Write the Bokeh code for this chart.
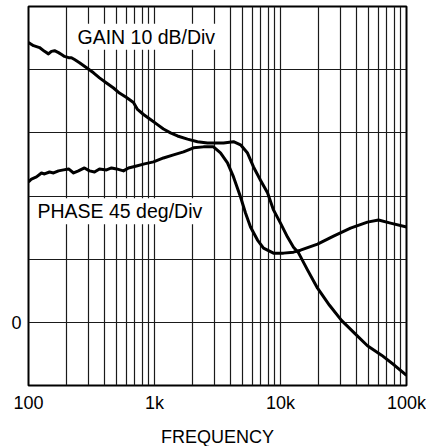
from bokeh.plotting import figure
from bokeh.models import Range1d, FixedTicker, Label
from bokeh.embed import file_html
from bokeh.resources import INLINE

# Gain curve (frequency in Hz, gain in dB; 10 dB/div)
gain_freq = [100, 109.6, 122.3, 134, 144, 152, 161, 173, 183, 193, 208, 219, 232, 254,
             289, 328, 366, 416, 473, 527, 600, 681, 733, 818, 929, 1056, 1178, 1340,
             1523, 1828, 2193, 2635, 3162, 3530, 4237, 4818, 5474, 6108, 6938, 7888,
             8795, 10000, 11370, 12680, 13900, 16370, 19680, 24490, 30480, 38640,
             48980, 63370, 80350, 100000]
gain_db = [44.3, 43.8, 43.5, 42.9, 42.5, 42.9, 43.0, 42.7, 42.4, 42.1, 41.9, 41.9, 41.6, 41.1,
           40.3, 39.5, 38.7, 37.9, 37.1, 36.3, 35.6, 34.8, 33.7, 32.9, 32.1, 31.3, 30.6, 30.0,
           29.5, 29.0, 28.6, 28.4, 28.4, 28.4, 28.6, 28.1, 26.8, 24.6, 22.5, 20.5,
           17.8, 15.7, 13.5, 11.9, 11.0, 8.3, 5.4, 2.7, 0.3, -1.7,
           -3.7, -5.2, -6.8, -8.4]

# Phase curve (frequency in Hz, phase in degrees; 45 deg/div)
phase_freq = [100, 105.6, 115.7, 126.8, 134, 146.8, 158, 173, 190, 208, 228, 249, 278, 305,
              334, 366, 416, 456, 500, 567, 622, 720, 833, 982, 1178, 1415, 1700, 2040,
              2448, 2938, 3340, 3796, 4237, 4818, 5275, 5780, 6568, 7330, 8795, 10560,
              12680, 14420, 19680, 26360, 35950, 48980, 59950, 74650, 100000]
phase_deg = [100.0, 102.1, 103.6, 106.4, 105.7, 107.1, 106.4, 107.9, 108.6, 109.3, 106.4, 107.9, 110.0, 107.9,
             107.1, 109.3, 108.6, 110.0, 109.3, 107.9, 110.0, 111.4, 112.9, 114.3, 117.1, 119.3, 121.4, 124.3,
             125.0, 125.0, 120.7, 113.6, 103.6, 89.3, 77.9, 67.9, 58.6, 52.9, 49.3, 49.3,
             50.0, 51.4, 55.7, 61.4, 67.1, 71.4, 72.9, 70.7, 67.9]

x_ticks = [100, 1000, 10000, 100000]
x_tick_labels = {100: "100", 1000: "1k", 10000: "10k", 100000: "100k"}
x_grid = [m * d for d in (100, 1000, 10000) for m in range(1, 10)] + [100000]
y_grid_db = [-10, 0, 10, 20, 30, 40, 50]
y_ticks = [0]

FONT = "Liberation Sans"

p = figure(frame_width=378, frame_height=379, x_axis_type="log",
           x_range=Range1d(100, 100000), y_range=Range1d(-10, 50),
           output_backend="svg", toolbar_location=None,
           min_border_left=20, min_border_right=20, min_border_top=2, min_border_bottom=10,
           margin=(4, 0, 0, 8))
p.extra_y_ranges = {"phase": Range1d(-45, 225)}

p.background_fill_color = "white"
p.border_fill_color = "white"
p.outline_line_color = "black"
p.outline_line_width = 2

p.xgrid.ticker = FixedTicker(ticks=x_grid)
p.ygrid.ticker = FixedTicker(ticks=y_grid_db)
for g in (p.xgrid, p.ygrid):
    g.grid_line_color = "#1a1a1a"
    g.grid_line_width = 1.2
    g.minor_grid_line_color = None

p.xaxis.ticker = FixedTicker(ticks=x_ticks)
p.xaxis.major_label_overrides = x_tick_labels
p.xaxis.axis_label = "FREQUENCY"
p.yaxis.ticker = FixedTicker(ticks=y_ticks)
for ax in (p.xaxis, p.yaxis):
    ax.axis_line_color = None
    ax.major_tick_line_color = None
    ax.minor_tick_line_color = None
    ax.major_tick_out = 0
    ax.major_tick_in = 0
    ax.major_label_text_font = FONT
    ax.major_label_text_font_size = "18px"
    ax.major_label_text_color = "black"
    ax.axis_label_text_font = FONT
    ax.axis_label_text_font_size = "18px"
    ax.axis_label_text_font_style = "normal"
    ax.axis_label_text_color = "black"
p.xaxis.major_label_standoff = 7
p.xaxis.axis_label_standoff = 11
p.yaxis.major_label_standoff = 7

p.line(gain_freq, gain_db, line_width=3, line_color="black", line_join="round")
p.line(phase_freq, phase_deg, line_width=3, line_color="black", line_join="round",
       y_range_name="phase")

p.add_layout(Label(x=236, y=45.2, text="GAIN 10 dB/Div", text_baseline="middle",
                   text_font=FONT, text_font_size="19.5px", text_color="black",
                   background_fill_color="white", padding=2))
p.add_layout(Label(x=113.6, y=17.6, text="PHASE 45 deg/Div", text_baseline="middle",
                   text_font=FONT, text_font_size="19.5px", text_color="black",
                   background_fill_color="white", padding=2))

open("out.html", "w").write(file_html(p, INLINE))
